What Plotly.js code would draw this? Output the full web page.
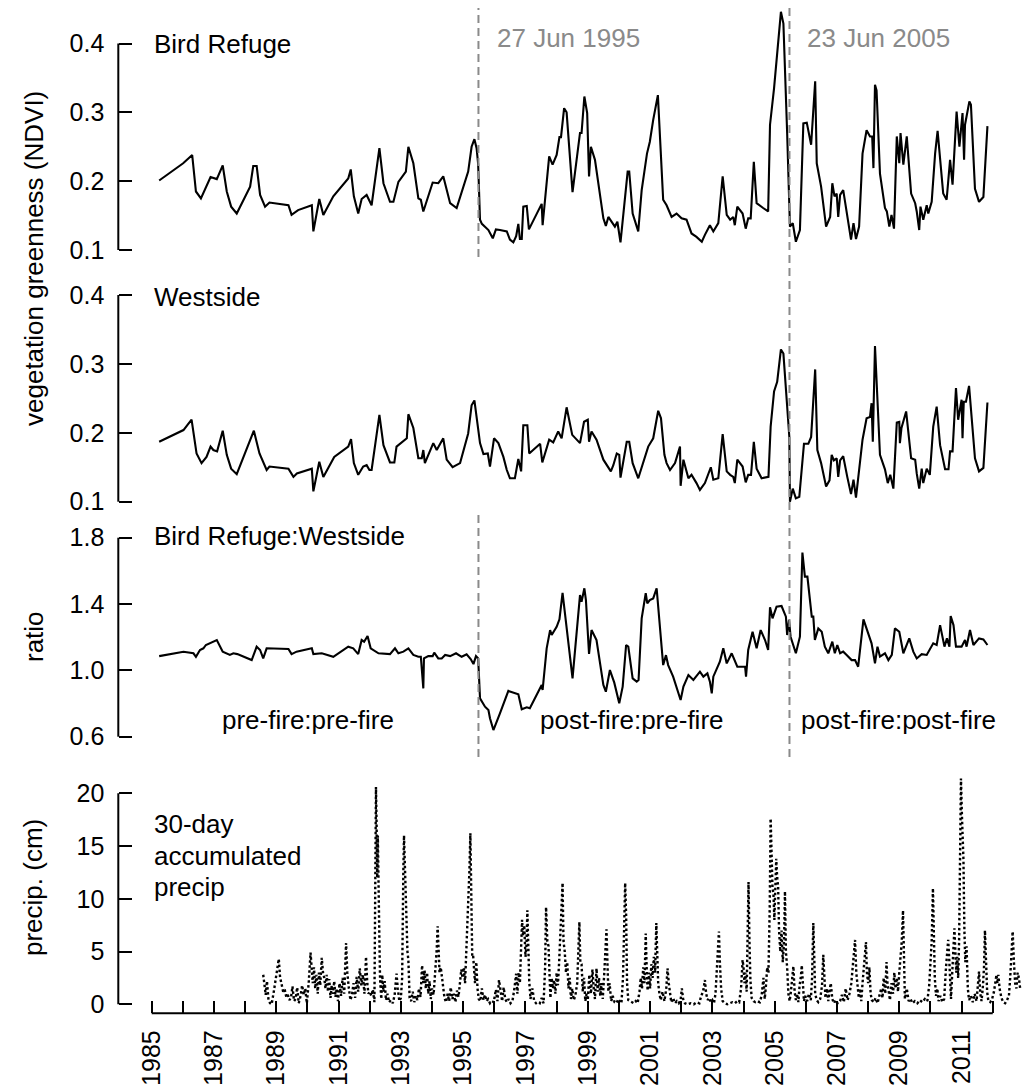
<!DOCTYPE html>
<html><head><meta charset="utf-8">
<script src="https://cdn.plot.ly/plotly-3.0.1.min.js"></script>
<style>html,body{margin:0;padding:0;background:#fff}</style>
</head><body><div id="chart" style="width:1027px;height:1090px"></div>
<script>
// ---------------- data ----------------
const brYear = [1985.24,1986.01,1986.30,1986.42,1986.58,1986.89,1987.09,1987.28,1987.41,1987.55,1987.73,1988.16,1988.26,1988.37,1988.48,1988.64,1988.78,1989.39,1989.49,1989.58,1989.70,1990.14,1990.19,1990.38,1990.51,1990.83,1991.31,1991.39,1991.49,1991.63,1991.74,1991.90,1992.06,1992.31,1992.44,1992.65,1992.76,1992.92,1993.16,1993.24,1993.40,1993.56,1993.64,1993.72,1994.02,1994.20,1994.36,1994.58,1994.79,1995.16,1995.27,1995.36,1995.43,1995.48,1995.54,1995.60,1995.81,1995.95,1996.05,1996.18,1996.40,1996.50,1996.61,1996.70,1996.77,1996.82,1996.88,1996.93,1997.04,1997.11,1997.52,1997.55,1997.76,1997.87,1998.00,1998.09,1998.14,1998.24,1998.32,1998.51,1998.75,1998.80,1998.89,1998.98,1999.04,1999.10,1999.23,1999.50,1999.58,1999.66,1999.77,1999.87,1999.95,2000.05,2000.28,2000.33,2000.44,2000.62,2000.73,2000.87,2000.90,2000.99,2001.10,2001.25,2001.42,2001.53,2001.69,2001.85,2002.01,2002.17,2002.33,2002.49,2002.66,2002.76,2002.92,2003.03,2003.19,2003.33,2003.46,2003.57,2003.67,2003.72,2003.80,2003.97,2004.07,2004.15,2004.23,2004.33,2004.42,2004.63,2004.79,2004.85,2004.98,2005.20,2005.28,2005.40,2005.49,2005.58,2005.68,2005.81,2005.92,2006.03,2006.17,2006.30,2006.35,2006.49,2006.65,2006.78,2006.85,2006.92,2006.99,2007.04,2007.10,2007.20,2007.31,2007.45,2007.53,2007.61,2007.71,2007.82,2007.95,2008.06,2008.13,2008.17,2008.22,2008.27,2008.38,2008.54,2008.60,2008.68,2008.75,2008.83,2008.92,2009.00,2009.04,2009.13,2009.24,2009.38,2009.51,2009.56,2009.64,2009.68,2009.77,2009.88,2009.93,2010.04,2010.15,2010.23,2010.41,2010.52,2010.63,2010.71,2010.84,2010.93,2011.03,2011.08,2011.11,2011.25,2011.30,2011.43,2011.56,2011.70,2011.83];
const brNdvi = [0.201,0.226,0.238,0.185,0.175,0.206,0.203,0.223,0.185,0.163,0.153,0.192,0.222,0.222,0.180,0.163,0.169,0.165,0.151,0.154,0.158,0.165,0.127,0.174,0.151,0.178,0.204,0.217,0.178,0.153,0.174,0.180,0.165,0.248,0.197,0.170,0.170,0.199,0.214,0.250,0.226,0.175,0.173,0.156,0.198,0.197,0.207,0.168,0.161,0.214,0.250,0.261,0.248,0.225,0.144,0.138,0.129,0.117,0.130,0.129,0.127,0.115,0.111,0.120,0.138,0.116,0.116,0.163,0.164,0.130,0.167,0.136,0.236,0.224,0.238,0.264,0.264,0.306,0.300,0.184,0.270,0.270,0.323,0.299,0.207,0.250,0.231,0.146,0.135,0.148,0.141,0.134,0.141,0.111,0.214,0.214,0.153,0.127,0.187,0.231,0.240,0.257,0.289,0.325,0.173,0.165,0.148,0.153,0.146,0.144,0.124,0.119,0.112,0.122,0.136,0.127,0.139,0.207,0.151,0.144,0.148,0.136,0.163,0.153,0.131,0.146,0.146,0.228,0.168,0.161,0.156,0.282,0.335,0.446,0.429,0.270,0.134,0.139,0.112,0.129,0.284,0.285,0.253,0.345,0.226,0.192,0.134,0.148,0.197,0.178,0.182,0.148,0.180,0.187,0.153,0.115,0.139,0.116,0.134,0.240,0.274,0.265,0.265,0.219,0.340,0.332,0.211,0.161,0.156,0.134,0.151,0.131,0.265,0.226,0.270,0.224,0.265,0.182,0.168,0.156,0.129,0.163,0.144,0.165,0.153,0.170,0.240,0.273,0.182,0.173,0.231,0.195,0.301,0.250,0.299,0.231,0.282,0.316,0.311,0.189,0.170,0.177,0.280];

const wsYear = [1985.24,1986.02,1986.28,1986.44,1986.60,1986.76,1986.89,1986.98,1987.10,1987.28,1987.41,1987.55,1987.73,1988.28,1988.46,1988.69,1988.78,1989.39,1989.55,1989.66,1990.14,1990.19,1990.38,1990.51,1990.86,1991.31,1991.40,1991.49,1991.63,1991.79,1991.90,1991.99,1992.06,1992.31,1992.44,1992.65,1992.79,1992.86,1993.19,1993.24,1993.40,1993.56,1993.67,1993.72,1993.77,1994.04,1994.15,1994.36,1994.47,1994.66,1994.90,1995.16,1995.27,1995.36,1995.54,1995.65,1995.79,1995.86,1995.99,1996.13,1996.29,1996.40,1996.50,1996.66,1996.77,1996.86,1996.93,1997.06,1997.12,1997.47,1997.54,1997.76,1997.89,1998.05,1998.16,1998.32,1998.50,1998.75,1998.88,1999.00,1999.04,1999.12,1999.28,1999.50,1999.74,1999.82,1999.93,2000.01,2000.05,2000.14,2000.25,2000.33,2000.44,2000.62,2000.94,2001.10,2001.26,2001.35,2001.46,2001.53,2001.64,2001.80,2001.96,2001.98,2002.07,2002.23,2002.33,2002.49,2002.60,2002.76,2002.95,2003.03,2003.19,2003.33,2003.46,2003.57,2003.67,2003.72,2003.80,2003.97,2004.07,2004.15,2004.24,2004.33,2004.42,2004.58,2004.74,2004.80,2004.87,2004.98,2005.08,2005.20,2005.28,2005.40,2005.47,2005.49,2005.58,2005.68,2005.79,2005.94,2006.08,2006.17,2006.30,2006.37,2006.49,2006.65,2006.76,2006.83,2006.90,2006.99,2007.04,2007.10,2007.20,2007.33,2007.45,2007.53,2007.61,2007.82,2007.95,2008.06,2008.11,2008.15,2008.22,2008.38,2008.54,2008.63,2008.71,2008.81,2008.92,2009.00,2009.02,2009.07,2009.22,2009.38,2009.51,2009.56,2009.64,2009.72,2009.77,2009.88,2009.98,2010.09,2010.20,2010.31,2010.47,2010.58,2010.63,2010.71,2010.82,2010.89,2011.00,2011.03,2011.07,2011.14,2011.24,2011.43,2011.56,2011.70,2011.83];
const wsNdvi = [0.187,0.204,0.219,0.170,0.156,0.165,0.180,0.175,0.173,0.203,0.168,0.148,0.140,0.203,0.170,0.146,0.151,0.148,0.136,0.141,0.148,0.115,0.158,0.136,0.165,0.180,0.191,0.156,0.139,0.151,0.153,0.146,0.146,0.226,0.182,0.157,0.157,0.180,0.192,0.227,0.207,0.163,0.163,0.175,0.156,0.185,0.175,0.192,0.161,0.150,0.156,0.199,0.240,0.247,0.185,0.169,0.170,0.151,0.192,0.185,0.165,0.146,0.134,0.134,0.162,0.144,0.211,0.211,0.170,0.184,0.157,0.190,0.186,0.202,0.192,0.237,0.197,0.185,0.216,0.219,0.187,0.202,0.190,0.161,0.144,0.153,0.170,0.168,0.135,0.158,0.187,0.187,0.156,0.134,0.180,0.192,0.232,0.221,0.168,0.156,0.146,0.156,0.180,0.123,0.161,0.134,0.139,0.127,0.117,0.127,0.150,0.132,0.134,0.198,0.144,0.139,0.136,0.127,0.161,0.151,0.128,0.139,0.139,0.187,0.148,0.134,0.136,0.136,0.209,0.260,0.274,0.321,0.315,0.238,0.194,0.100,0.119,0.105,0.107,0.184,0.184,0.194,0.292,0.175,0.156,0.122,0.131,0.168,0.160,0.163,0.136,0.160,0.166,0.136,0.111,0.132,0.106,0.190,0.221,0.223,0.243,0.187,0.326,0.168,0.147,0.127,0.139,0.119,0.215,0.216,0.185,0.207,0.231,0.163,0.161,0.141,0.119,0.148,0.127,0.148,0.139,0.209,0.238,0.182,0.147,0.147,0.173,0.173,0.265,0.219,0.248,0.192,0.245,0.245,0.268,0.163,0.144,0.149,0.244];

const ratioYear = [1985.24,1986.02,1986.34,1986.42,1986.55,1986.66,1986.74,1986.89,1987.09,1987.28,1987.51,1987.62,1987.75,1988.21,1988.37,1988.48,1988.58,1988.69,1989.39,1989.49,1989.65,1990.14,1990.19,1990.46,1990.83,1991.31,1991.47,1991.63,1991.74,1991.82,1991.93,1992.03,1992.28,1992.65,1992.81,1992.92,1993.08,1993.24,1993.40,1993.56,1993.64,1993.72,1993.74,1993.88,1994.02,1994.07,1994.20,1994.31,1994.42,1994.58,1994.77,1994.95,1995.11,1995.24,1995.33,1995.41,1995.48,1995.54,1995.70,1995.81,1995.86,1995.97,1996.08,1996.18,1996.45,1996.66,1996.77,1996.88,1997.04,1997.14,1997.52,1997.55,1997.68,1997.79,1997.84,1998.00,1998.09,1998.19,1998.51,1998.75,1998.80,1998.89,1998.94,1999.04,1999.12,1999.28,1999.50,1999.58,1999.71,1999.85,2000.01,2000.12,2000.23,2000.30,2000.44,2000.57,2000.63,2000.73,2000.86,2000.91,2000.99,2001.10,2001.21,2001.42,2001.51,2001.58,2001.74,2001.98,2002.07,2002.23,2002.39,2002.60,2002.71,2002.84,2002.92,2002.98,2003.03,2003.24,2003.35,2003.46,2003.62,2003.80,2004.05,2004.08,2004.15,2004.29,2004.42,2004.55,2004.69,2004.79,2004.85,2004.93,2005.06,2005.22,2005.36,2005.40,2005.46,2005.51,2005.60,2005.68,2005.81,2005.89,2005.97,2006.05,2006.19,2006.24,2006.29,2006.40,2006.51,2006.61,2006.72,2006.85,2006.93,2007.01,2007.10,2007.20,2007.31,2007.47,2007.58,2007.68,2007.85,2008.01,2008.11,2008.22,2008.30,2008.38,2008.54,2008.65,2008.76,2008.86,2009.00,2009.13,2009.32,2009.45,2009.56,2009.72,2009.88,2010.09,2010.20,2010.31,2010.45,2010.53,2010.61,2010.65,2010.74,2010.82,2011.00,2011.11,2011.16,2011.27,2011.38,2011.56,2011.70,2011.83];
const ratioVal = [1.086,1.112,1.103,1.082,1.123,1.133,1.153,1.167,1.183,1.113,1.093,1.103,1.098,1.062,1.143,1.123,1.072,1.133,1.129,1.098,1.113,1.133,1.098,1.103,1.082,1.143,1.133,1.098,1.183,1.173,1.207,1.133,1.103,1.098,1.133,1.103,1.113,1.133,1.093,1.082,1.082,0.891,1.072,1.086,1.086,1.107,1.072,1.072,1.093,1.086,1.103,1.082,1.097,1.068,1.038,1.086,1.072,0.831,0.781,0.761,0.711,0.640,0.691,0.741,0.876,0.861,0.856,0.765,0.777,0.771,0.912,0.882,1.133,1.243,1.213,1.263,1.308,1.468,0.952,1.454,1.414,1.495,1.424,1.099,1.243,1.183,0.912,0.871,1.002,0.926,0.801,0.902,1.153,1.143,0.952,0.932,0.942,1.314,1.465,1.404,1.424,1.434,1.495,1.032,1.092,1.032,0.962,0.821,0.902,0.972,0.942,0.992,0.962,0.982,0.932,0.861,0.962,1.052,1.133,1.042,1.103,1.022,1.022,0.962,1.123,1.233,1.133,1.243,1.183,1.123,1.380,1.314,1.384,1.388,1.324,1.213,1.304,1.203,1.143,1.103,1.203,1.710,1.565,1.565,1.324,1.324,1.183,1.253,1.233,1.143,1.103,1.173,1.103,1.153,1.103,1.113,1.093,1.062,1.062,1.022,1.308,1.223,1.163,1.042,1.143,1.083,1.103,1.062,1.093,1.253,1.233,1.103,1.193,1.113,1.072,1.098,1.093,1.163,1.153,1.273,1.143,1.193,1.143,1.328,1.273,1.143,1.143,1.183,1.143,1.243,1.153,1.193,1.187,1.153];

const precipYear = [1988.58,1988.62,1988.66,1988.70,1988.75,1988.80,1988.85,1988.92,1988.98,1989.04,1989.08,1989.12,1989.17,1989.22,1989.27,1989.32,1989.37,1989.42,1989.47,1989.52,1989.57,1989.62,1989.67,1989.72,1989.78,1989.83,1989.88,1989.93,1989.98,
1990.04,1990.10,1990.13,1990.17,1990.21,1990.25,1990.29,1990.33,1990.37,1990.41,1990.46,1990.50,1990.54,1990.58,1990.62,1990.66,1990.70,1990.74,1990.78,1990.82,1990.86,1990.90,1990.94,1990.98,
1991.03,1991.08,1991.13,1991.18,1991.24,1991.28,1991.33,1991.38,1991.43,1991.48,1991.53,1991.58,1991.63,1991.68,1991.73,1991.78,1991.83,1991.88,1991.92,1991.96,1992.00,1992.05,1992.10,1992.15,
1992.19,1992.20,1992.22,1992.24,1992.26,1992.28,1992.30,1992.33,1992.37,1992.40,1992.44,1992.48,1992.52,1992.57,1992.62,1992.68,1992.74,1992.80,1992.86,1992.90,1992.95,1993.00,1993.04,1993.08,1993.10,1993.12,1993.15,1993.18,1993.21,1993.24,1993.28,1993.33,1993.38,1993.43,1993.48,1993.53,1993.58,1993.63,1993.68,1993.72,1993.76,1993.80,1993.84,1993.88,1993.92,1993.96,
1994.00,1994.05,1994.10,1994.15,1994.18,1994.21,1994.24,1994.28,1994.32,1994.36,1994.40,1994.45,1994.50,1994.55,1994.60,1994.65,1994.70,1994.75,1994.80,1994.85,1994.90,1994.94,1994.98,
1995.02,1995.06,1995.10,1995.14,1995.17,1995.20,1995.23,1995.26,1995.29,1995.32,1995.35,1995.38,1995.42,1995.46,1995.50,1995.55,1995.60,1995.65,1995.70,1995.75,1995.80,1995.86,1995.92,1995.98,
1996.05,1996.10,1996.15,1996.20,1996.25,1996.30,1996.35,1996.40,1996.46,1996.52,1996.58,1996.64,1996.70,1996.74,1996.78,1996.82,1996.86,1996.89,1996.92,1996.96,
1997.00,1997.03,1997.06,1997.09,1997.12,1997.16,1997.22,1997.28,1997.34,1997.40,1997.46,1997.52,1997.58,1997.63,1997.66,1997.70,1997.74,1997.77,1997.80,1997.84,1997.88,1997.92,1997.96,
1998.00,1998.04,1998.08,1998.12,1998.16,1998.19,1998.22,1998.26,1998.30,1998.34,1998.38,1998.42,1998.46,1998.50,1998.55,1998.60,1998.66,1998.70,1998.73,1998.76,1998.80,1998.84,1998.88,1998.92,1998.96,
1999.00,1999.05,1999.10,1999.15,1999.19,1999.23,1999.28,1999.32,1999.36,1999.40,1999.44,1999.48,1999.53,1999.57,1999.60,1999.63,1999.66,1999.70,1999.75,1999.80,1999.86,1999.92,1999.98,
2000.03,2000.08,2000.13,2000.17,2000.20,2000.23,2000.26,2000.30,2000.36,2000.42,2000.48,2000.54,2000.60,2000.66,2000.70,2000.74,2000.78,2000.82,2000.86,2000.89,2000.92,2000.96,
2001.00,2001.04,2001.08,2001.12,2001.16,2001.20,2001.23,2001.26,2001.30,2001.34,2001.40,2001.46,2001.52,2001.56,2001.60,2001.64,2001.68,2001.74,2001.80,2001.86,2001.92,2001.98,
2002.02,2002.06,2002.12,2002.20,2002.30,2002.40,2002.50,2002.58,2002.64,2002.70,2002.76,2002.80,2002.85,2002.90,2002.95,
2003.00,2003.05,2003.10,2003.14,2003.18,2003.21,2003.24,2003.28,2003.33,2003.40,2003.48,2003.56,2003.64,2003.72,2003.80,2003.86,2003.92,2003.97,
2004.00,2004.03,2004.06,2004.10,2004.13,2004.16,2004.19,2004.22,2004.26,2004.32,2004.38,2004.45,2004.52,2004.58,2004.64,2004.68,2004.72,2004.76,2004.80,2004.84,2004.87,2004.90,2004.93,2004.96,2004.99,
2005.02,2005.05,2005.08,2005.11,2005.14,2005.18,2005.22,2005.26,2005.30,2005.33,2005.36,2005.40,2005.44,2005.48,2005.52,2005.56,2005.60,2005.64,2005.68,2005.72,2005.76,2005.80,2005.84,2005.87,2005.90,2005.94,2005.98,
2006.04,2006.10,2006.16,2006.20,2006.24,2006.27,2006.30,2006.35,2006.40,2006.46,2006.52,2006.56,2006.59,2006.63,2006.68,2006.72,2006.76,2006.80,2006.85,2006.90,2006.96,
2007.02,2007.10,2007.16,2007.22,2007.28,2007.34,2007.40,2007.46,2007.50,2007.54,2007.58,2007.62,2007.66,2007.70,2007.74,2007.78,2007.82,2007.86,2007.90,2007.93,2007.96,
2008.00,2008.04,2008.08,2008.12,2008.18,2008.24,2008.30,2008.36,2008.42,2008.46,2008.50,2008.55,2008.59,2008.62,2008.66,2008.70,2008.75,2008.80,2008.84,2008.88,2008.92,2008.96,
2009.00,2009.04,2009.08,2009.12,2009.15,2009.18,2009.24,2009.30,2009.36,2009.42,2009.50,2009.58,2009.66,2009.74,2009.82,2009.90,2009.96,
2010.00,2010.04,2010.08,2010.11,2010.14,2010.18,2010.22,2010.26,2010.32,2010.38,2010.44,2010.50,2010.54,2010.57,2010.60,2010.63,2010.66,2010.70,2010.74,2010.77,2010.80,2010.83,2010.86,2010.89,2010.92,2010.95,2010.98,
2011.01,2011.04,2011.06,2011.09,2011.12,2011.16,2011.20,2011.24,2011.30,2011.36,2011.42,2011.48,2011.52,2011.56,2011.60,2011.64,2011.68,2011.72,2011.75,2011.78,2011.82,2011.86,2011.92,2011.98,
2012.04,2012.08,2012.12,2012.15,2012.18,2012.22,2012.28,2012.34,2012.40,2012.46,2012.52,2012.56,2012.60,2012.64,2012.68,2012.72,2012.76,2012.80,2012.84,2012.88];
const precipCm = [2.8,1.5,0.9,2.2,0.4,0.1,0.0,1.2,2.4,3.5,4.3,2.6,1.8,1.2,1.4,0.7,0.9,0.4,0.6,1.7,0.3,0.5,1.6,0.1,0.8,1.8,0.9,1.5,0.1,
2.0,4.9,3.2,2.0,3.5,1.5,2.8,1.0,3.0,1.8,4.4,3.0,2.5,1.5,2.8,1.2,2.4,0.6,1.8,1.0,2.2,0.7,1.5,0.3,
2.0,0.8,2.5,1.0,5.8,3.0,1.5,0.4,0.9,2.0,0.6,2.6,1.2,3.4,1.8,2.8,1.0,4.5,2.0,1.0,1.2,0.8,1.4,0.2,
16.5,20.6,17.0,12.0,16.0,10.0,8.0,2.5,0.5,2.8,1.2,2.2,0.4,1.0,0.2,0.4,0.1,0.9,2.9,1.5,0.3,0.6,2.5,13.0,16.0,14.0,10.0,7.0,5.0,4.2,0.6,0.3,1.2,0.2,0.8,0.4,1.5,0.7,3.7,2.0,3.2,1.5,3.0,1.0,2.2,0.5,
1.5,0.9,3.0,5.2,7.4,4.4,3.0,3.5,2.5,1.5,0.6,0.2,1.0,0.3,1.6,0.5,1.0,0.2,1.3,0.7,2.0,3.3,2.5,
3.5,2.0,5.0,7.5,11.0,12.7,16.2,11.5,4.5,4.6,3.5,2.0,4.0,1.5,0.5,0.3,1.5,0.4,0.9,0.3,0.5,0.1,0.3,0.2,
1.4,0.3,2.3,1.0,0.3,1.6,0.5,0.2,0.5,0.1,0.3,1.4,2.9,1.0,3.0,2.0,5.0,8.0,6.5,7.5,
4.5,5.5,8.9,5.0,2.2,0.5,1.5,0.3,0.1,0.2,0.1,0.6,0.1,3.5,9.2,6.0,5.5,3.0,0.6,2.5,1.5,2.3,1.0,
3.0,1.8,4.0,7.0,10.0,11.5,6.0,5.0,3.0,4.0,1.5,2.5,0.5,1.5,0.4,0.8,2.0,5.0,7.8,4.0,3.8,1.2,2.5,0.3,1.0,
0.4,2.8,1.0,3.3,1.5,0.5,3.4,1.2,2.5,0.8,2.0,0.5,3.0,5.0,7.1,4.0,1.2,2.0,0.3,0.8,0.2,0.1,0.5,
0.2,0.1,2.5,8.0,11.5,8.5,2.0,0.4,0.3,0.2,0.1,0.3,0.1,1.2,2.5,1.5,3.5,2.0,6.7,3.5,1.3,3.0,
1.5,3.8,2.5,4.5,3.0,7.7,4.5,2.0,1.0,0.4,1.2,0.3,1.5,3.4,2.0,0.8,0.2,0.6,0.1,0.3,0.1,0.4,
1.5,0.5,0.1,0.0,0.1,0.0,0.2,0.1,0.8,1.2,2.3,1.0,0.4,0.6,0.2,
0.4,0.1,1.0,3.5,5.5,6.9,4.0,1.5,0.3,0.1,0.0,0.1,0.2,0.1,0.3,0.2,1.5,4.2,
3.5,2.0,3.0,1.2,5.0,11.6,6.0,2.3,0.6,0.3,0.2,0.3,0.2,0.8,2.5,0.5,1.8,3.5,3.0,9.0,17.6,14.0,11.0,10.5,8.0,
11.0,13.8,12.0,11.2,7.0,5.0,7.0,4.0,6.0,10.7,5.0,3.5,1.0,0.3,1.2,2.5,3.6,1.2,0.4,1.0,0.2,1.8,2.6,3.7,1.5,0.3,0.8,
0.3,1.0,0.4,2.5,7.7,4.5,1.0,0.4,0.2,0.5,1.8,4.7,2.5,0.6,1.5,0.3,1.2,2.0,0.5,0.1,0.4,
0.1,0.3,0.9,0.2,1.5,0.4,1.0,2.0,3.5,5.0,6.1,3.0,2.0,0.6,1.5,0.3,2.0,3.5,5.5,5.9,3.0,
2.0,3.5,1.0,0.4,0.2,0.6,0.1,0.8,1.5,0.6,2.5,1.0,4.0,2.0,1.2,0.4,2.0,1.0,3.0,1.5,2.5,1.2,
3.0,4.5,6.0,8.9,4.0,0.5,1.5,0.3,0.5,0.1,0.3,0.1,0.4,0.2,0.5,0.3,1.8,
3.5,6.0,11.0,7.0,2.5,0.8,1.5,0.3,0.8,0.2,0.5,3.5,5.0,6.1,4.5,2.0,0.5,3.0,5.5,7.2,5.0,3.0,4.5,2.5,6.0,14.0,21.4,
18.0,15.0,13.7,7.0,4.0,5.5,1.5,0.4,0.8,0.2,1.0,0.3,1.5,3.1,1.0,0.3,1.5,3.5,7.0,4.0,1.2,0.3,0.2,0.5,
1.2,2.0,2.8,2.0,2.8,1.5,0.6,0.2,0.1,0.4,0.8,2.5,4.5,6.9,4.0,2.0,1.5,3.0,2.5,1.5];

const fireDates = [1995.49, 2005.475];
const fireLabels = ['27 Jun 1995', '23 Jun 2005'];
const xTickYears = [1985,1986,1987,1988,1989,1990,1991,1992,1993,1994,1995,1996,1997,1998,1999,2000,2001,2002,2003,2004,2005,2006,2007,2008,2009,2010,2011,2012];
const xTickLabels = ['1985','','1987','','1989','','1991','','1993','','1995','','1997','','1999','','2001','','2003','','2005','','2007','','2009','','2011',''];
const ndviTicks = [0.1,0.2,0.3,0.4];
const ndviTickText = ['0.1','0.2','0.3','0.4'];
const ratioTicks = [0.6,1.0,1.4,1.8];
const ratioTickText = ['0.6','1.0','1.4','1.8'];
const precipTicks = [0,5,10,15,20];
const precipTickText = ['0','5','10','15','20'];

// ---------------- layout helpers ----------------
const W = 1027, H = 1090;
const fx = p => p / W;          // pixel x -> paper
const fy = p => 1 - p / H;      // pixel y -> paper
const FONT = 'Liberation Sans, Arial, Helvetica, sans-serif';
const AXX = fx(118.3);

const lineStyle = {color: '#000', width: 2.1};
const traces = [
  {x: brYear, y: brNdvi, xaxis: 'x', yaxis: 'y', type: 'scatter', mode: 'lines', line: lineStyle, hoverinfo: 'skip'},
  {x: wsYear, y: wsNdvi, xaxis: 'x', yaxis: 'y2', type: 'scatter', mode: 'lines', line: lineStyle, hoverinfo: 'skip'},
  {x: ratioYear, y: ratioVal, xaxis: 'x', yaxis: 'y3', type: 'scatter', mode: 'lines', line: lineStyle, hoverinfo: 'skip'},
  {x: precipYear, y: precipCm, xaxis: 'x', yaxis: 'y4', type: 'scatter', mode: 'lines', line: {color: '#000', width: 2.4, dash: '2.5px,2.5px'}, hoverinfo: 'skip'}
];

function yax(domainPx, range, tv, tt) {
  return {
    domain: [fy(domainPx[1]), fy(domainPx[0])], range: range,
    anchor: 'free', position: AXX,
    tickmode: 'array', tickvals: tv, ticktext: tt,
    ticks: 'inside', ticklen: 13, tickwidth: 2, tickcolor: '#000',
    tickfont: {family: FONT, size: 25, color: '#000'},
    ticklabelstandoff: 14,
    showgrid: false, zeroline: false, showline: false, fixedrange: true
  };
}

const shapes = [];
// R-style axis lines spanning the tick range
[['y', 0.1, 0.4], ['y2', 0.1, 0.4], ['y3', 0.6, 1.8], ['y4', 0, 20]].forEach(a => {
  shapes.push({type: 'line', xref: 'paper', yref: a[0], x0: AXX, x1: AXX, y0: a[1], y1: a[2], line: {color: '#000', width: 2}});
});
shapes.push({type: 'line', xref: 'x', yref: 'paper', x0: xTickYears[0], x1: xTickYears[xTickYears.length - 1], y0: fy(1013.3), y1: fy(1013.3), line: {color: '#000', width: 2}});
// fire date dashed lines
const dashLine = {color: '#8a8a8a', width: 2, dash: '8px,5px'};
shapes.push({type: 'line', xref: 'x', yref: 'paper', x0: fireDates[0], x1: fireDates[0], y0: fy(257), y1: fy(8), line: dashLine});
shapes.push({type: 'line', xref: 'x', yref: 'paper', x0: fireDates[0], x1: fireDates[0], y0: fy(757), y1: fy(512), line: dashLine});
shapes.push({type: 'line', xref: 'x', yref: 'paper', x0: fireDates[1], x1: fireDates[1], y0: fy(757), y1: fy(8), line: dashLine});

function ann(text, xpx, ypx, xanchor, opts) {
  return Object.assign({
    text: text, xref: 'paper', yref: 'paper', x: fx(xpx), y: fy(ypx),
    xanchor: xanchor, yanchor: 'middle', showarrow: false,
    font: {family: FONT, size: 26, color: '#000'}
  }, opts || {});
}
const grey = {font: {family: FONT, size: 26, color: '#8a8a8a'}};
const annotations = [
  ann('Bird Refuge', 152, 44, 'left'),
  ann(fireLabels[0], 495, 38, 'left', grey),
  ann(fireLabels[1], 805, 38, 'left', grey),
  ann('Westside', 152, 297, 'left'),
  ann('Bird Refuge:Westside', 152, 535.5, 'left'),
  ann('pre-fire:pre-fire', 308, 720, 'center'),
  ann('post-fire:pre-fire', 632, 720, 'center'),
  ann('post-fire:post-fire', 898, 720, 'center'),
  ann('30-day', 152, 824, 'left'),
  ann('accumulated', 152, 856, 'left'),
  ann('precip', 152, 887, 'left'),
  ann('vegetation greenness (NDVI)', 34, 259, 'center', {textangle: -90}),
  ann('ratio', 34, 637, 'center', {textangle: -90}),
  ann('precip. (cm)', 33, 888, 'center', {textangle: -90})
];

const layout = {
  width: W, height: H,
  margin: {l: 0, r: 0, t: 0, b: 0, pad: 0},
  paper_bgcolor: '#fff', plot_bgcolor: 'rgba(0,0,0,0)',
  showlegend: false,
  font: {family: FONT, size: 25, color: '#000'},
  xaxis: {
    range: [1980.130, 2013.100], anchor: 'y4', domain: [0, 1],
    tickmode: 'array', tickvals: xTickYears, ticktext: xTickLabels,
    ticks: 'inside', ticklen: 12, tickwidth: 2, tickcolor: '#000',
    tickangle: -90, tickfont: {family: FONT, size: 25, color: '#000'},
    ticklabelstandoff: 11,
    showgrid: false, zeroline: false, showline: false, fixedrange: true
  },
  yaxis:  yax([5, 258],    [0.08838, 0.45593], ndviTicks, ndviTickText),
  yaxis2: yax([262, 512],  [0.08505, 0.44790], ndviTicks, ndviTickText),
  yaxis3: yax([515, 760],  [0.45950, 1.93689], ratioTicks, ratioTickText),
  yaxis4: yax([770, 1013.3], [-0.8531, 22.2085], precipTicks, precipTickText),
  shapes: shapes,
  annotations: annotations
};

Plotly.newPlot('chart', traces, layout, {displayModeBar: false, staticPlot: true});
</script>
</body></html>
